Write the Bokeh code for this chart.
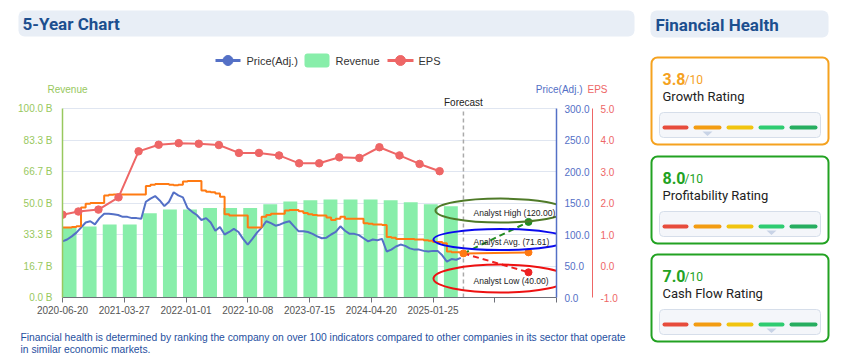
import pandas as pd
from bokeh.plotting import figure
from bokeh.models import Range1d, LinearAxis, FixedTicker, PrintfTickFormatter
from bokeh.layouts import row, column
from bokeh.embed import file_html
from bokeh.resources import INLINE
from bokeh.core.properties import value

# ------------------------------------------------------------------ data
revenue_dates = ["2020-07-22", "2020-10-21", "2021-01-20", "2021-04-21", "2021-07-21",
                 "2021-10-20", "2022-01-19", "2022-04-20", "2022-07-20", "2022-10-19",
                 "2023-01-18", "2023-04-19", "2023-07-19", "2023-10-18", "2024-01-17",
                 "2024-04-17", "2024-07-17", "2024-10-16", "2025-01-15", "2025-04-16"]
revenue_b = [37.2, 37.6, 38.6, 38.6, 44.6, 46.6, 46.6, 47.3, 47.3, 47.3,
             49.4, 50.8, 51.5, 51.9, 51.9, 51.9, 51.5, 50.4, 49.4, 48.3]

eps_dates = ["2020-06-20", "2020-08-31", "2020-11-30", "2021-03-01", "2021-05-31",
             "2021-08-30", "2021-11-29", "2022-02-28", "2022-05-30", "2022-08-29",
             "2022-11-28", "2023-02-27", "2023-05-29", "2023-08-28", "2023-11-27",
             "2024-02-26", "2024-05-27", "2024-08-26", "2024-11-25", "2025-02-24"]
eps_values = [1.63, 1.73, 1.79, 2.18, 3.64, 3.85, 3.90, 3.88, 3.84, 3.59,
              3.59, 3.51, 3.26, 3.26, 3.45, 3.43, 3.77, 3.51, 3.24, 3.01]

price_start = "2020-06-20"
price_step = "21D"
price_adj = [89, 92, 97, 103, 111, 119, 121, 116, 126, 133,
             133, 132, 131, 128, 128, 126, 126, 125, 152, 157,
             161, 154, 145, 152, 167, 162, 159, 142, 136, 131,
             123, 126, 119, 106, 112, 100, 104, 109, 104, 93,
             84, 93, 103, 111, 121, 118, 114, 116, 119, 121,
             113, 105, 105, 104, 101, 97, 94, 95, 100, 104,
             113, 106, 101, 101, 99, 94, 89, 92, 91, 93,
             73, 76, 81, 84, 82, 78, 76, 76, 74, 73,
             74, 74, 67, 57, 61, 60, 63]
fair_value = [111, 111, 112, 113, 143, 149, 150, 150, 150, 162,
              163, 163.5, 163.5, 163.5, 163.5, 163.5, 163.5, 163.5, 177, 179,
              180, 180, 180, 179, 178, 179, 184, 185, 185, 185,
              170, 168, 167, 165, 160, 132, 130, 130, 130, 130,
              111, 111, 111, 128, 131, 133, 133, 133, 138, 139,
              139, 137, 134, 132, 131, 130, 130, 127, 123, 125,
              128, 125, 125, 125, 125, 118, 117, 116, 116, 115,
              96, 95, 93, 93, 93, 93, 92, 92, 91, 90,
              88, 88, 86, 73, 72, 72, 71]

forecast_date = "2025-06-12"
target_date = "2026-04-03"
forecast_base = 70.0
analyst_high = 120.00
analyst_avg = 71.61
analyst_low = 40.00
analyst_names = ["Analyst High", "Analyst Avg.", "Analyst Low"]
analyst_values = [analyst_high, analyst_avg, analyst_low]

x_tick_dates = ["2020-06-20", "2021-03-27", "2022-01-01", "2022-10-08", "2023-07-15",
                "2024-04-20", "2025-01-25", "2025-11-01", "2026-08-08"]
x_tick_labels = ["2020-06-20", "2021-03-27", "2022-01-01", "2022-10-08", "2023-07-15",
                 "2024-04-20", "2025-01-25", "", ""]
revenue_ticks = [0, 100 / 6, 200 / 6, 50, 400 / 6, 500 / 6, 100]
price_ticks = [0, 50, 100, 150, 200, 250, 300]
eps_ticks = [-1, 0, 1, 2, 3, 4, 5]
revenue_span = (0, 100)
price_span = (0, 300)
eps_span = (-1, 5)

scores = ["3.8", "8.0", "7.0"]
rating_names = ["Growth Rating", "Profitability Rating", "Cash Flow Rating"]
pointer_segment = [1, 3, 3]

# ------------------------------------------------------------------ styles
FONT = "Liberation Sans"
HFONT = "Roboto"
BLUE = "#5470c6"
GREEN_BAR = "#88eeaa"
RED = "#ee6666"
ORANGE = "#ff7a12"
REV_GREEN = "#98c85e"
HEAD_BLUE = "#1c4f8f"
HEAD_BG = "#e8eef6"
HI_GREEN = "#228b22"
LO_RED = "#ee2222"


def ms(d):
    return pd.Timestamp(d).value // 10**6


def panel(w, h, x0, y0):
    f = figure(width=w, height=h, x_range=Range1d(x0, x0 + w), y_range=Range1d(y0 + h, y0),
               x_axis_type=None, y_axis_type=None, min_border=0, toolbar_location=None,
               output_backend="svg", outline_line_color=None)
    f.frame_align = False
    return f


# ------------------------------------------------------------------ header + legend
hf = panel(642, 96, 0, 0)
hf.quad(left=[18], right=[634], top=[10], bottom=[36], fill_color=HEAD_BG,
        line_color=None, border_radius=6)
hf.text(x=[22], y=[23.5], text=["5-Year Chart"], text_font=value(HFONT),
        text_font_style="bold", text_font_size="17px", text_color=HEAD_BLUE,
        text_baseline="middle")
hf.segment(x0=[215, 387], y0=[60, 60], x1=[240, 413], y1=[60, 60],
           line_color=[BLUE, RED], line_width=3)
hf.scatter(x=[227.5, 400], y=[60, 60], size=10, color=[BLUE, RED])
hf.quad(left=[304], right=[329], top=[53], bottom=[67], fill_color=GREEN_BAR,
        line_color=None, border_radius=3)
hf.text(x=[246, 335, 418], y=[60.5, 60.5, 60.5], text=["Price(Adj.)", "Revenue", "EPS"],
        text_font=value(FONT), text_font_size="11px", text_color="#333333",
        text_baseline="middle")
hf.text(x=[67, 582, 587], y=[88.5, 88.5, 88.5], text=["Revenue", "Price(Adj.)", "EPS"],
        text_font=value(FONT), text_font_size="10px", text_color=[REV_GREEN, BLUE, RED],
        text_align=["center", "right", "left"], text_baseline="middle")

# ------------------------------------------------------------------ chart
FRAME_TOP, AXIS_TOP, AXIS_BOTTOM = 96, 108, 297
ext = (AXIS_BOTTOM - FRAME_TOP) / (AXIS_BOTTOM - AXIS_TOP)


def extended(span):
    return Range1d(span[0], span[0] + (span[1] - span[0]) * ext)


p = figure(width=642, height=224, x_axis_type="datetime",
           x_range=Range1d(ms(x_tick_dates[0]), ms(x_tick_dates[-1])),
           y_range=extended(revenue_span),
           min_border_left=62, min_border_right=86, min_border_top=0, min_border_bottom=23,
           toolbar_location=None, output_backend="svg", outline_line_color=None)
p.frame_align = False
p.extra_y_ranges = {"price": extended(price_span), "eps": extended(eps_span)}

p.xaxis.ticker = FixedTicker(ticks=[ms(d) for d in x_tick_dates])
p.xaxis.major_label_overrides = {ms(d): lab for d, lab in zip(x_tick_dates, x_tick_labels)}
p.xaxis.axis_line_color = "#6e7079"
p.xaxis.major_tick_line_color = "#6e7079"
p.xaxis.major_tick_out = 5
p.xaxis.major_tick_in = 0
p.xaxis.minor_tick_line_color = None
p.xaxis.major_label_text_color = "#555555"
p.xaxis.major_label_text_font = FONT
p.xaxis.major_label_text_font_size = "10px"
p.xaxis.major_label_standoff = 3

p.yaxis.ticker = FixedTicker(ticks=revenue_ticks)
p.yaxis.bounds = revenue_span
p.yaxis.formatter = PrintfTickFormatter(format="%.1f B")
p.yaxis.axis_line_color = REV_GREEN
p.yaxis.axis_line_width = 1.5
p.yaxis.major_tick_line_color = None
p.yaxis.major_tick_out = 0
p.yaxis.minor_tick_line_color = None
p.yaxis.major_label_text_color = REV_GREEN
p.yaxis.major_label_text_font = FONT
p.yaxis.major_label_text_font_size = "10px"
p.yaxis.major_label_standoff = 10

p.xgrid.visible = False
p.ygrid.ticker = FixedTicker(ticks=revenue_ticks)
p.ygrid.grid_line_color = "#e0e6f1"

axis_style = dict(major_tick_line_color=None, major_tick_out=0, major_tick_in=0,
                  minor_tick_line_color=None, major_label_text_font=FONT,
                  major_label_text_font_size="10px", major_label_standoff=8)
price_axis = LinearAxis(y_range_name="price", ticker=FixedTicker(ticks=price_ticks),
                        formatter=PrintfTickFormatter(format="%.1f"),
                        bounds=price_span, axis_line_color=BLUE, axis_line_width=1.5,
                        major_label_text_color=BLUE, **axis_style)
eps_axis = LinearAxis(y_range_name="eps", ticker=FixedTicker(ticks=eps_ticks),
                      formatter=PrintfTickFormatter(format="%.1f"),
                      bounds=eps_span, axis_line_color=RED, axis_line_width=1,
                      major_label_text_color=RED, **axis_style)
p.add_layout(price_axis, "right")
p.add_layout(eps_axis, "right")

# revenue bars
p.vbar(x=pd.to_datetime(revenue_dates), top=revenue_b, width=63 * 86400000,
       fill_color=GREEN_BAR, line_color=None)

# price and the orange line
price_dates = pd.date_range(price_start, periods=len(price_adj), freq=price_step)
p.line(price_dates, price_adj, line_color=BLUE, line_width=2, y_range_name="price")
p.step(price_dates, fair_value, mode="after", line_color=ORANGE, line_width=2,
       y_range_name="price")

# EPS
p.line(pd.to_datetime(eps_dates), eps_values, line_color=RED, line_width=2, y_range_name="eps")
p.scatter(pd.to_datetime(eps_dates), eps_values, size=7.5, color=RED, y_range_name="eps")

# forecast divider
fdate = pd.to_datetime([forecast_date, forecast_date])
p.line(fdate, list(revenue_span), line_color="#aaaaaa", line_dash="4 3", line_width=1.5)
p.text(x=fdate[:1], y=[revenue_span[1]], text=["Forecast"], y_offset=-1,
       text_font=value(FONT), text_font_size="10px", text_color="#222222",
       text_align="center", text_baseline="bottom")

fc = pd.to_datetime([forecast_date, target_date])
p.line(fc, [forecast_base, analyst_avg], line_color=ORANGE, line_width=2, y_range_name="price")
p.line(fc, [forecast_base, analyst_high], line_color=HI_GREEN, line_width=2,
       line_dash="6 4", y_range_name="price")
p.line(fc, [forecast_base, analyst_low], line_color=LO_RED, line_width=2,
       line_dash="6 4", y_range_name="price")
p.scatter(pd.to_datetime([forecast_date, target_date, target_date, target_date]),
          [forecast_base, analyst_avg, analyst_high, analyst_low], size=7,
          color=[ORANGE, ORANGE, HI_GREEN, LO_RED], y_range_name="price")

# analyst call-outs
callout_date = pd.to_datetime(["2025-11-27"] * 3)
callout_y = [138, 92, 30]
p.ellipse(x=callout_date, y=callout_y, width=[130, 134, 134], height=[24, 21, 28],
          width_units="screen", height_units="screen", fill_color=None,
          line_color=["#4f7a28", "#0a0aee", "#ee1111"], line_width=2, y_range_name="price")
p.text(x=callout_date, y=callout_y,
       text=[f"{n} ({v:.2f})" for n, v in zip(analyst_names, analyst_values)],
       x_offset=-27, y_offset=2, text_font=value(FONT), text_font_size="8.5px",
       text_color="#222222", text_baseline="middle", y_range_name="price")

# ------------------------------------------------------------------ footnote
ff = panel(642, 42, 0, 320)
ff.text(x=[20, 20], y=[337, 349],
        text=["Financial health is determined by ranking the company on over 100 "
              "indicators compared to other companies in its sector that operate",
              "in similar economic markets."],
        text_font=value(FONT), text_font_size="10.3px", text_color="#1f50a0",
        text_baseline="middle")

# ------------------------------------------------------------------ right panel
rp = panel(210, 362, 642, 0)
rp.quad(left=[650], right=[828], top=[10], bottom=[37], fill_color=HEAD_BG,
        line_color=None, border_radius=6)
rp.text(x=[655], y=[24], text=["Financial Health"], text_font=value(HFONT),
        text_font_style="bold", text_font_size="17px", text_color=HEAD_BLUE,
        text_baseline="middle")

card_top = [57, 156, 254]
card_color = ["#f5a21f", "#22a222", "#22a222"]
seg_left = [664, 695, 728, 760, 791]
seg_right = [686, 719, 751, 782, 815]
seg_color = ["#e74c3c", "#f39c12", "#f1c40f", "#2ecc71", "#27ae60"]

rp.quad(left=[651] * 3, right=[828] * 3, top=card_top, bottom=[t + 87 for t in card_top],
        fill_color="white", line_color=card_color, line_width=2, border_radius=6)
rp.text(x=[662] * 3, y=[t + 21 for t in card_top], text=scores, text_font=value(HFONT),
        text_font_style="bold", text_font_size="16px", text_color=card_color,
        text_baseline="middle")
rp.text(x=[684] * 3, y=[t + 22 for t in card_top], text=["/10"] * 3, text_font=value(HFONT),
        text_font_size="12px", text_color=card_color, text_baseline="middle")
rp.text(x=[662] * 3, y=[t + 39 for t in card_top], text=rating_names, text_font=value(HFONT),
        text_font_size="13px", text_color="#222222", text_baseline="middle")
rp.quad(left=[659] * 3, right=[820] * 3, top=[t + 55 for t in card_top],
        bottom=[t + 80 for t in card_top], fill_color="#f4f6fa", line_color="#d6deea",
        line_width=1, border_radius=4)
for t, ptr in zip(card_top, pointer_segment):
    rp.segment(x0=seg_left, y0=[t + 70] * 5, x1=seg_right, y1=[t + 70] * 5,
               line_color=seg_color, line_width=4, line_cap="round")
    cx = (seg_left[ptr] + seg_right[ptr]) / 2
    rp.patch(x=[cx - 5, cx + 5, cx], y=[t + 74, t + 74, t + 78.5], fill_color="#c8d3e6",
             line_color=None)

layout = row(column(hf, p, ff, spacing=0), rp, spacing=0)
open("out.html", "w").write(file_html(layout, INLINE))
